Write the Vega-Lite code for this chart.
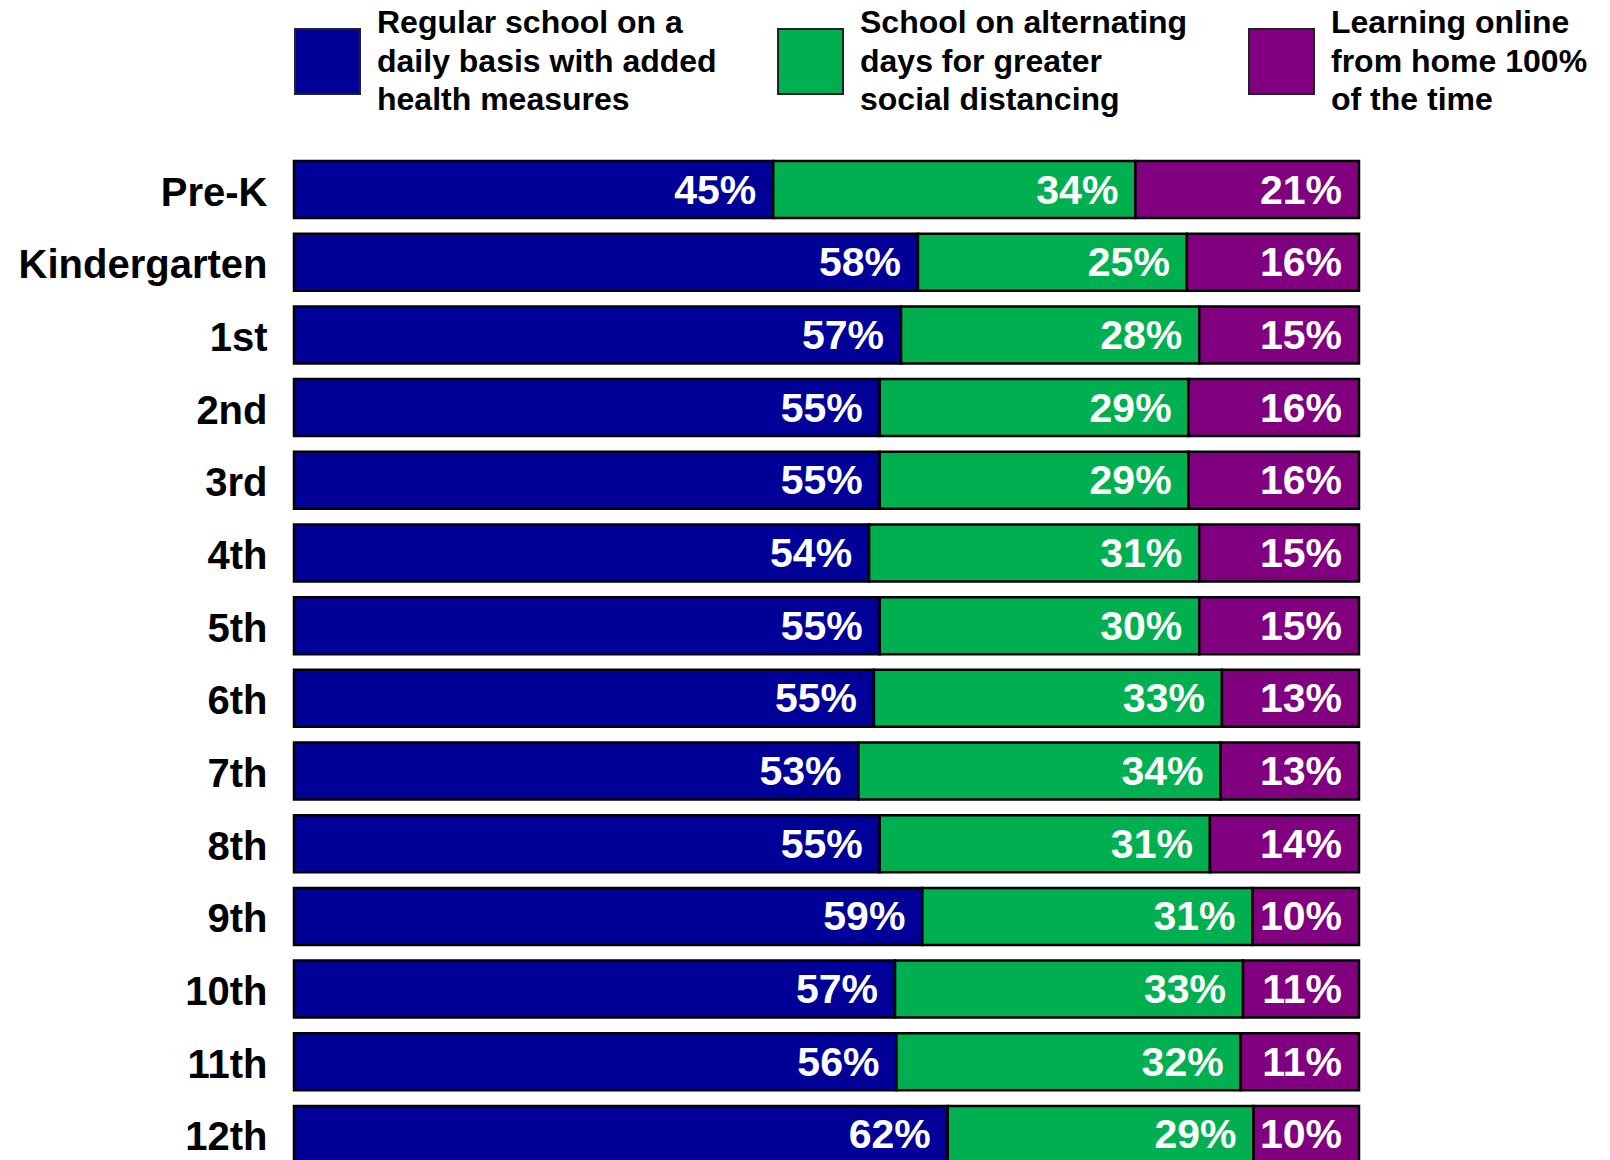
{
  "$schema": "https://vega.github.io/schema/vega-lite/v6.json",
  "autosize": {"type": "none"},
  "width": 1065,
  "height": 1002,
  "padding": {"left": 294, "top": 161, "right": 251, "bottom": 0},
  "background": "white",
  "config": {
    "view": {"stroke": null},
    "font": "Liberation Sans"
  },
  "data": {
    "values": [
      {"grade": "Pre-K", "option": "Regular school on a daily basis with added health measures", "k": 1, "share": 0.45},
      {"grade": "Pre-K", "option": "School on alternating days for greater social distancing", "k": 2, "share": 0.34},
      {"grade": "Pre-K", "option": "Learning online from home 100% of the time", "k": 3, "share": 0.21},
      {"grade": "Kindergarten", "option": "Regular school on a daily basis with added health measures", "k": 1, "share": 0.58},
      {"grade": "Kindergarten", "option": "School on alternating days for greater social distancing", "k": 2, "share": 0.25},
      {"grade": "Kindergarten", "option": "Learning online from home 100% of the time", "k": 3, "share": 0.16},
      {"grade": "1st", "option": "Regular school on a daily basis with added health measures", "k": 1, "share": 0.57},
      {"grade": "1st", "option": "School on alternating days for greater social distancing", "k": 2, "share": 0.28},
      {"grade": "1st", "option": "Learning online from home 100% of the time", "k": 3, "share": 0.15},
      {"grade": "2nd", "option": "Regular school on a daily basis with added health measures", "k": 1, "share": 0.55},
      {"grade": "2nd", "option": "School on alternating days for greater social distancing", "k": 2, "share": 0.29},
      {"grade": "2nd", "option": "Learning online from home 100% of the time", "k": 3, "share": 0.16},
      {"grade": "3rd", "option": "Regular school on a daily basis with added health measures", "k": 1, "share": 0.55},
      {"grade": "3rd", "option": "School on alternating days for greater social distancing", "k": 2, "share": 0.29},
      {"grade": "3rd", "option": "Learning online from home 100% of the time", "k": 3, "share": 0.16},
      {"grade": "4th", "option": "Regular school on a daily basis with added health measures", "k": 1, "share": 0.54},
      {"grade": "4th", "option": "School on alternating days for greater social distancing", "k": 2, "share": 0.31},
      {"grade": "4th", "option": "Learning online from home 100% of the time", "k": 3, "share": 0.15},
      {"grade": "5th", "option": "Regular school on a daily basis with added health measures", "k": 1, "share": 0.55},
      {"grade": "5th", "option": "School on alternating days for greater social distancing", "k": 2, "share": 0.30},
      {"grade": "5th", "option": "Learning online from home 100% of the time", "k": 3, "share": 0.15},
      {"grade": "6th", "option": "Regular school on a daily basis with added health measures", "k": 1, "share": 0.55},
      {"grade": "6th", "option": "School on alternating days for greater social distancing", "k": 2, "share": 0.33},
      {"grade": "6th", "option": "Learning online from home 100% of the time", "k": 3, "share": 0.13},
      {"grade": "7th", "option": "Regular school on a daily basis with added health measures", "k": 1, "share": 0.53},
      {"grade": "7th", "option": "School on alternating days for greater social distancing", "k": 2, "share": 0.34},
      {"grade": "7th", "option": "Learning online from home 100% of the time", "k": 3, "share": 0.13},
      {"grade": "8th", "option": "Regular school on a daily basis with added health measures", "k": 1, "share": 0.55},
      {"grade": "8th", "option": "School on alternating days for greater social distancing", "k": 2, "share": 0.31},
      {"grade": "8th", "option": "Learning online from home 100% of the time", "k": 3, "share": 0.14},
      {"grade": "9th", "option": "Regular school on a daily basis with added health measures", "k": 1, "share": 0.59},
      {"grade": "9th", "option": "School on alternating days for greater social distancing", "k": 2, "share": 0.31},
      {"grade": "9th", "option": "Learning online from home 100% of the time", "k": 3, "share": 0.10},
      {"grade": "10th", "option": "Regular school on a daily basis with added health measures", "k": 1, "share": 0.57},
      {"grade": "10th", "option": "School on alternating days for greater social distancing", "k": 2, "share": 0.33},
      {"grade": "10th", "option": "Learning online from home 100% of the time", "k": 3, "share": 0.11},
      {"grade": "11th", "option": "Regular school on a daily basis with added health measures", "k": 1, "share": 0.56},
      {"grade": "11th", "option": "School on alternating days for greater social distancing", "k": 2, "share": 0.32},
      {"grade": "11th", "option": "Learning online from home 100% of the time", "k": 3, "share": 0.11},
      {"grade": "12th", "option": "Regular school on a daily basis with added health measures", "k": 1, "share": 0.62},
      {"grade": "12th", "option": "School on alternating days for greater social distancing", "k": 2, "share": 0.29},
      {"grade": "12th", "option": "Learning online from home 100% of the time", "k": 3, "share": 0.10}
    ]
  },
  "encoding": {
    "y": {
      "field": "grade",
      "type": "nominal",
      "sort": null,
      "scale": {"paddingInner": 0.215, "paddingOuter": 0},
      "axis": {
        "title": null,
        "domain": false,
        "ticks": false,
        "labelFontSize": 40,
        "labelFontWeight": "bold",
        "labelColor": "black",
        "labelPadding": 27,
        "labelOffset": 4,
        "labelLimit": 500,
        "labelFont": "Liberation Sans"
      }
    },
    "x": {
      "field": "share",
      "type": "quantitative",
      "stack": "normalize",
      "scale": {"domain": [0, 1], "nice": false},
      "axis": null
    },
    "order": {"field": "k", "type": "quantitative"}
  },
  "layer": [
    {
      "mark": {"type": "bar", "stroke": "black", "strokeWidth": 2.5},
      "encoding": {
        "color": {
          "field": "option",
          "type": "nominal",
          "sort": null,
          "scale": {
            "domain": [
              "Regular school on a daily basis with added health measures",
              "School on alternating days for greater social distancing",
              "Learning online from home 100% of the time"
            ],
            "range": ["#000099", "#00B050", "#800080"]
          },
          "legend": {
            "orient": "top",
            "direction": "horizontal",
            "title": null,
            "offset": 45,
            "symbolType": "square",
            "symbolSize": 4225,
            "symbolStrokeColor": "#222222",
            "symbolStrokeWidth": 2,
            "symbolOpacity": 1,
            "labelFontSize": 32,
            "labelFontWeight": "bold",
            "labelColor": "black",
            "labelFont": "Liberation Sans",
            "labelLimit": 600,
            "labelOffset": 16,
            "columnPadding": 57,
            "labelExpr": "datum.label == 'Regular school on a daily basis with added health measures' ? ['Regular school on a', 'daily basis with added', 'health measures'] : datum.label == 'School on alternating days for greater social distancing' ? ['School on alternating', 'days for greater', 'social distancing'] : ['Learning online', 'from home 100%', 'of the time']",
            "encode": {
              "labels": {
                "update": {
                  "lineHeight": {"value": 38.5},
                  "dy": {"value": -38.5}
                }
              }
            }
          }
        }
      }
    },
    {
      "mark": {
        "type": "text",
        "align": "right",
        "baseline": "middle",
        "dx": -17,
        "dy": 2,
        "color": "white",
        "fontSize": 41,
        "fontWeight": "bold",
        "font": "Liberation Sans"
      },
      "encoding": {
        "detail": {"field": "option"},
        "text": {"field": "share", "type": "quantitative", "format": ".0%"}
      }
    }
  ]
}
